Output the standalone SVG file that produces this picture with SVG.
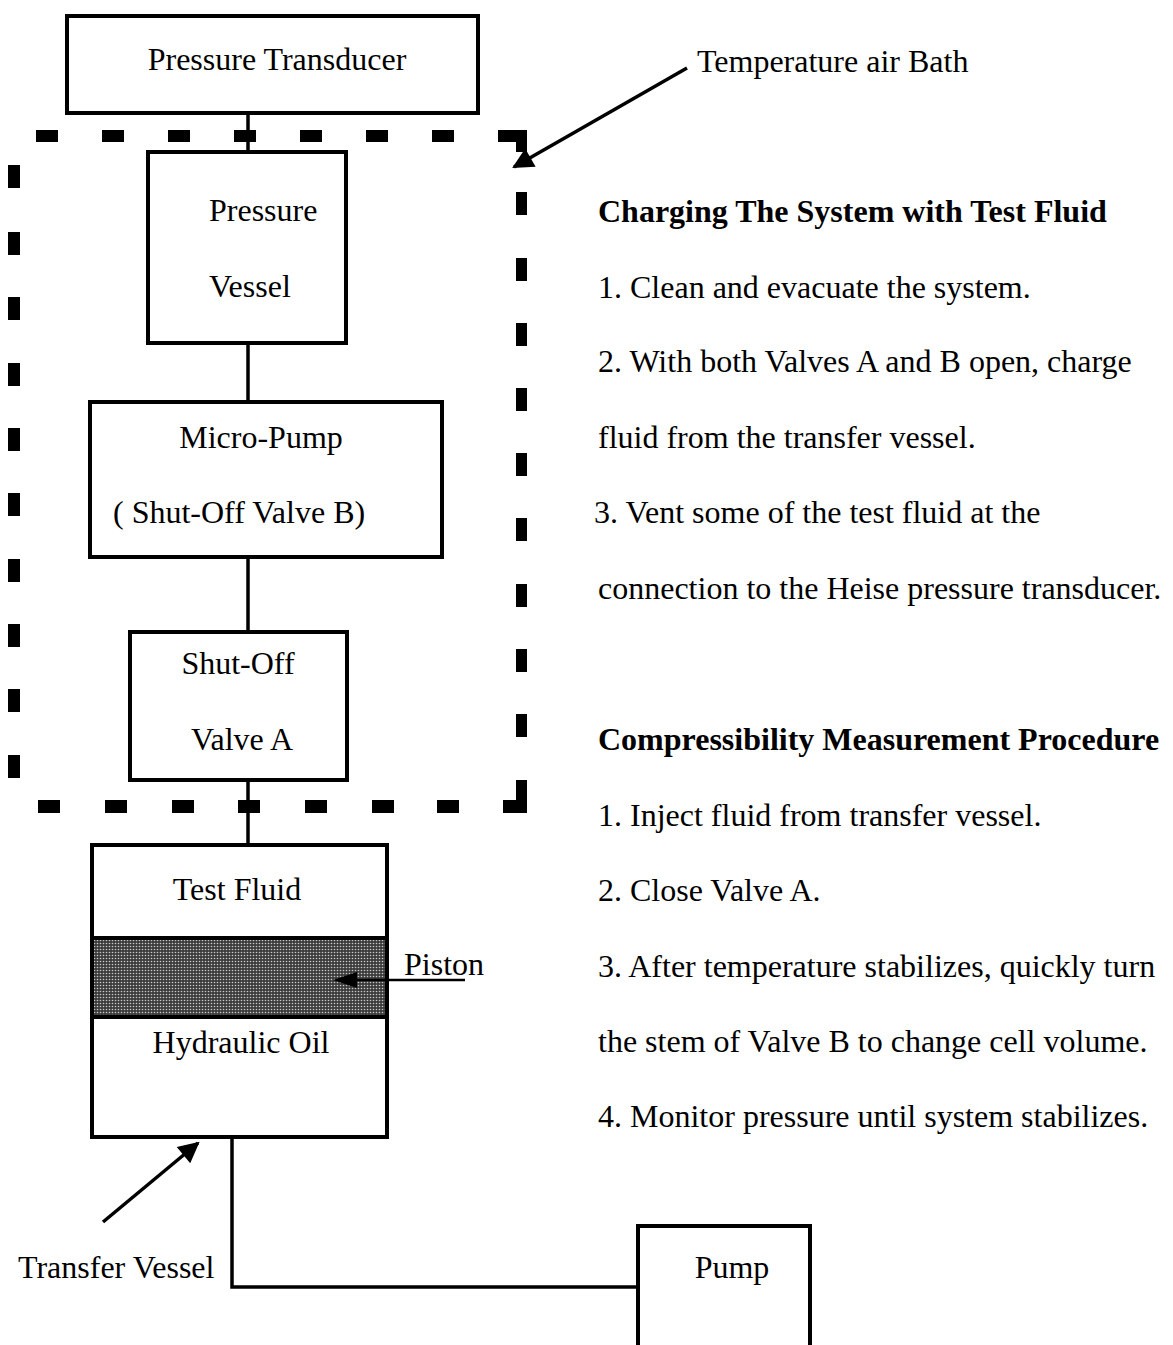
<svg xmlns="http://www.w3.org/2000/svg" width="1173" height="1345" viewBox="0 0 1173 1345">
  <defs>
    <style>
      .box { fill: #fff; stroke: #000; stroke-width: 4; }
      .ln { fill: none; stroke: #000; stroke-width: 3.5; }
      .dash { fill: #000; }
      text { font-family: "Liberation Serif", "Times New Roman", serif; font-size: 32px; fill: #000; }
      .c { text-anchor: middle; }
      .b { font-weight: bold; }
    </style>
    <pattern id="dots" width="3" height="3" patternUnits="userSpaceOnUse">
      <rect width="3" height="3" fill="#3c3c3c"/>
      <circle cx="1.5" cy="1.5" r="0.8" fill="#c8c8c8"/>
    </pattern>
    <marker id="ah" viewBox="0 0 10 10" refX="9" refY="5" markerWidth="7" markerHeight="6" markerUnits="strokeWidth" orient="auto">
      <path d="M0,0 L10,5 L0,10 z" fill="#000"/>
    </marker>
  </defs>

  <!-- Temperature air bath dashed boundary -->
  <g id="air-bath">
    <rect class="dash" x="36" y="130" width="22" height="12"/>
    <rect class="dash" x="102" y="130" width="22" height="12"/>
    <rect class="dash" x="168" y="130" width="22" height="12"/>
    <rect class="dash" x="234" y="130" width="22" height="12"/>
    <rect class="dash" x="300" y="130" width="22" height="12"/>
    <rect class="dash" x="366" y="130" width="22" height="12"/>
    <rect class="dash" x="432" y="130" width="22" height="12"/>
    <path class="dash" d="M498,130 H527 V152 H516 V142 H498 Z"/>
    <rect class="dash" x="516" y="192" width="11" height="23"/>
    <rect class="dash" x="516" y="258" width="11" height="23"/>
    <rect class="dash" x="516" y="323" width="11" height="23"/>
    <rect class="dash" x="516" y="388" width="11" height="23"/>
    <rect class="dash" x="516" y="453" width="11" height="23"/>
    <rect class="dash" x="516" y="518" width="11" height="23"/>
    <rect class="dash" x="516" y="584" width="11" height="23"/>
    <rect class="dash" x="516" y="649" width="11" height="23"/>
    <rect class="dash" x="516" y="714" width="11" height="23"/>
    <path class="dash" d="M516,780 H527 V813 H503 V800 H516 Z"/>
    <rect class="dash" x="38" y="800" width="22" height="13"/>
    <rect class="dash" x="105" y="800" width="22" height="13"/>
    <rect class="dash" x="172" y="800" width="22" height="13"/>
    <rect class="dash" x="238" y="800" width="22" height="13"/>
    <rect class="dash" x="305" y="800" width="22" height="13"/>
    <rect class="dash" x="372" y="800" width="22" height="13"/>
    <rect class="dash" x="437" y="800" width="22" height="13"/>
    <rect class="dash" x="8" y="165" width="12" height="23"/>
    <rect class="dash" x="8" y="232" width="12" height="23"/>
    <rect class="dash" x="8" y="297" width="12" height="23"/>
    <rect class="dash" x="8" y="363" width="12" height="23"/>
    <rect class="dash" x="8" y="428" width="12" height="23"/>
    <rect class="dash" x="8" y="493" width="12" height="23"/>
    <rect class="dash" x="8" y="559" width="12" height="23"/>
    <rect class="dash" x="8" y="624" width="12" height="23"/>
    <rect class="dash" x="8" y="689" width="12" height="23"/>
    <rect class="dash" x="8" y="755" width="12" height="23"/>
  </g>

  <!-- Connectors -->
  <g id="connectors">
    <line class="ln" x1="248" y1="113" x2="248" y2="152"/>
    <line class="ln" x1="248" y1="343" x2="248" y2="402"/>
    <line class="ln" x1="248" y1="557" x2="248" y2="632"/>
    <line class="ln" x1="248" y1="780" x2="248" y2="845"/>
    <polyline class="ln" points="232,1137 232,1287 638,1287"/>
    <line class="ln" x1="687" y1="68" x2="514" y2="167" marker-end="url(#ah)"/>
    <line class="ln" x1="103" y1="1222" x2="198" y2="1143" marker-end="url(#ah)"/>
  </g>

  <g id="pressure-transducer">
    <rect class="box" x="67" y="16" width="411" height="97"/>
    <text class="c" x="277" y="70">Pressure Transducer</text>
  </g>

  <g id="temperature-air-bath-label">
    <text x="697" y="72">Temperature air Bath</text>
  </g>

  <g id="pressure-vessel">
    <rect class="box" x="148" y="152" width="198" height="191"/>
    <text x="209" y="221">Pressure</text>
    <text x="209" y="297">Vessel</text>
  </g>

  <g id="micro-pump">
    <rect class="box" x="90" y="402" width="352" height="155"/>
    <text class="c" x="261" y="448">Micro-Pump</text>
    <text x="113" y="523">( Shut-Off Valve B)</text>
  </g>

  <g id="valve-a">
    <rect class="box" x="130" y="632" width="217" height="148"/>
    <text class="c" x="238" y="674">Shut-Off</text>
    <text class="c" x="242" y="750">Valve A</text>
  </g>

  <g id="transfer-vessel">
    <rect class="box" x="92" y="845" width="295" height="292"/>
    <rect x="92" y="938" width="295" height="79" fill="url(#dots)" stroke="#000" stroke-width="4"/>
    <text class="c" x="237" y="900">Test Fluid</text>
    <text class="c" x="241" y="1053">Hydraulic Oil</text>
  </g>

  <g id="piston-label">
    <line x1="465" y1="980" x2="352" y2="980" stroke="#000" stroke-width="2.5"/>
    <path d="M333,980 L357,972 L357,988 Z" fill="#000"/>
    <text x="404" y="975">Piston</text>
  </g>

  <g id="transfer-vessel-label">
    <text x="18" y="1278">Transfer Vessel</text>
  </g>

  <g id="pump">
    <rect class="box" x="638" y="1226" width="172" height="125"/>
    <text class="c" x="732" y="1278">Pump</text>
  </g>

  <g id="procedures">
    <text class="b" x="598" y="222">Charging The System with Test Fluid</text>
    <text x="598" y="298">1. Clean and evacuate the system.</text>
    <text x="598" y="372">2. With both Valves A and B open, charge</text>
    <text x="598" y="448">fluid from the transfer vessel.</text>
    <text x="594" y="523">3. Vent some of the test fluid at the</text>
    <text x="598" y="599">connection to the Heise pressure transducer.</text>
    <text class="b" x="598" y="750">Compressibility Measurement Procedure</text>
    <text x="598" y="826">1. Inject fluid from transfer vessel.</text>
    <text x="598" y="901">2. Close Valve A.</text>
    <text x="598" y="977">3. After temperature stabilizes, quickly turn</text>
    <text x="598" y="1052">the stem of Valve B to change cell volume.</text>
    <text x="598" y="1127">4. Monitor pressure until system stabilizes.</text>
  </g>
</svg>
